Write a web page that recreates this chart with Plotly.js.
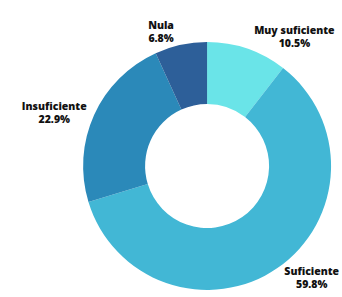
<!DOCTYPE html>
<html>
<head>
<meta charset="utf-8">
<script src="https://cdn.plot.ly/plotly-3.0.1.min.js"></script>
<style>html,body{margin:0;padding:0;background:#fff;}#chart{width:342px;height:297px;}</style>
</head>
<body>
<div id="chart"></div>
<script>
const categories = ["Muy suficiente", "Suficiente", "Insuficiente", "Nula"];
const values = [10.5, 59.8, 22.9, 6.8];
const colors = ["#6AE4E8", "#42B7D5", "#2B89B9", "#2D5F99"];

const trace = {
  type: "pie",
  labels: categories,
  values: values,
  hole: 0.5,
  sort: false,
  direction: "clockwise",
  rotation: 0,
  marker: {colors: colors, line: {width: 0}},
  textposition: "outside",
  texttemplate: "%{label}<br>%{value:.1f}%",
  textfont: {family: "Open Sans, sans-serif", size: 10.5, color: "#111", weight: 800},
  domain: {x: [0.243, 0.968], y: [0.0236, 0.8586]},
  automargin: false,
  showlegend: false,
  hoverinfo: "none"
};

Plotly.newPlot("chart", [trace], {
  width: 342, height: 297,
  margin: {l: 0, r: 0, t: 0, b: 0},
  paper_bgcolor: "#fff",
  showlegend: false
}, {staticPlot: true});
</script>
</body>
</html>
